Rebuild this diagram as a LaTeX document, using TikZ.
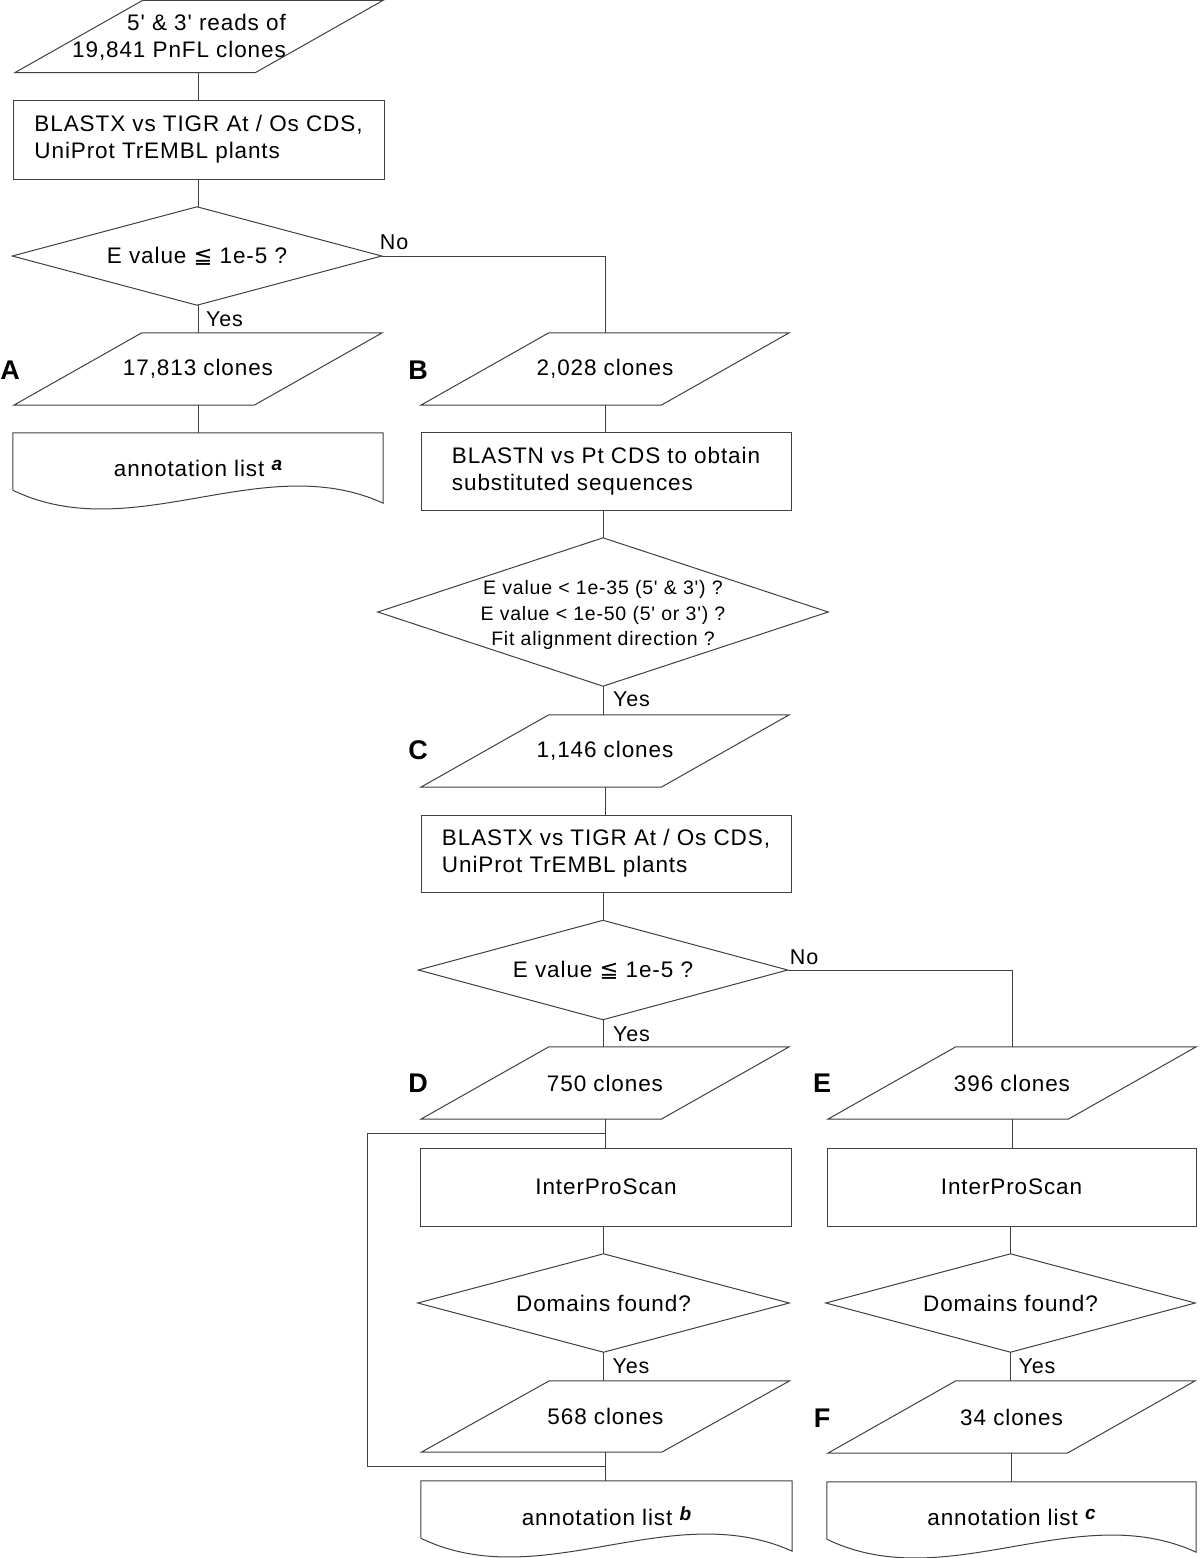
\documentclass[tikz,border=0pt]{standalone}
\usepackage{fontspec}
\newfontfamily\mainf{Liberation Sans}[LetterSpace=4]
\newfontfamily\dejavu{DejaVu Sans}
\usetikzlibrary{calc}
\definecolor{linec}{gray}{0.25}
\tikzset{
  base/.style={inner sep=0pt, align=center, text=black, font=\mainf\fontsize{22.5}{27}\selectfont},
  rbox/.style={base, draw=linec, line width=1pt},
  para/.style={base, append after command={\pgfextra{\draw[linec, line width=1pt]
      ([xshift=128pt]\tikzlastnode.north west) -- (\tikzlastnode.north east)
      -- ([xshift=-128pt]\tikzlastnode.south east) -- (\tikzlastnode.south west) -- cycle;}}},
  dia/.style={base, append after command={\pgfextra{\draw[linec, line width=1pt]
      (\tikzlastnode.north) -- (\tikzlastnode.east) -- (\tikzlastnode.south)
      -- (\tikzlastnode.west) -- cycle;}}},
  docu/.style={base, append after command={\pgfextra{\draw[linec, line width=1pt]
      ($(\tikzlastnode.south west)+(0,-13)$) -- (\tikzlastnode.north west)
      -- (\tikzlastnode.north east) -- (\tikzlastnode.south east)
      .. controls ($(\tikzlastnode.south west)+(250,-55)$) and ($(\tikzlastnode.south west)+(120,45)$)
      .. ($(\tikzlastnode.south west)+(0,-13)$);}}},
  conn/.style={draw=linec, line width=1pt},
  lbl/.style={inner sep=0pt, anchor=west, font=\mainf\fontsize{21.5}{25}\selectfont},
  letter/.style={inner sep=0pt, font=\mainf\bfseries\fontsize{27}{30}\selectfont},
  small/.style={font=\mainf\fontsize{19.5}{25.5}\selectfont}
}
\newcommand{\leqq}{{\dejavu ≦}}
\newcommand{\supl}[1]{\raisebox{0.45ex}{\fontsize{19}{20}\selectfont\bfseries\itshape #1}}
\begin{document}
\begin{tikzpicture}[x=1pt,y=-1pt]
\fill[white] (0,0) rectangle (1200,1558);
\useasboundingbox (0,0) rectangle (1200,1558);

% column A
\node[para, minimum width=368pt, minimum height=72pt] (start) at (199,36.5) {};
\node[base, align=right] (starttxt) at (179,37) {5' \& 3' reads of\\19,841 PnFL clones};
\node[rbox, align=left, minimum width=371pt, minimum height=79pt] (blast1) at (198.5,139.5) {BLASTX vs TIGR At / Os CDS,\\UniProt TrEMBL plants};
\node[dia, minimum width=369pt, minimum height=98pt] (dec1) at (197,256) {E value \leqq{} 1e-5 ?};
\node[para, minimum width=368pt, minimum height=72pt] (clA) at (198,369) {17,813 clones};
\node[docu, minimum width=370pt, minimum height=70pt] (docA) at (198,468) {annotation list \supl{a}};

% column B
\node[para, minimum width=368pt, minimum height=72pt] (clB) at (605,369) {2,028 clones};
\node[rbox, align=left, minimum width=370pt, minimum height=78pt] (blastn) at (606,471) {BLASTN vs Pt CDS to obtain\\substituted sequences};
\node[dia, minimum width=450pt, minimum height=148pt] (dec2) at (603,612) {};
\node[base, small] (dec2txt) at (603,615) {E value < 1e-35 (5' \& 3') ?\\E value < 1e-50 (5' or 3') ?\\Fit alignment direction ?};
\node[para, minimum width=368pt, minimum height=72pt] (clC) at (605,751) {1,146 clones};
\node[rbox, align=left, minimum width=370pt, minimum height=77pt] (blast2) at (606,853.5) {BLASTX vs TIGR At / Os CDS,\\UniProt TrEMBL plants};
\node[dia, minimum width=369pt, minimum height=99pt] (dec3) at (603,970) {E value \leqq{} 1e-5 ?};
\node[para, minimum width=368pt, minimum height=72pt] (clD) at (605,1083) {750 clones};
\node[rbox, minimum width=371pt, minimum height=78pt] (ipr1) at (606,1187) {InterProScan};
\node[dia, minimum width=371pt, minimum height=98pt] (dec4) at (603.5,1303) {Domains found?};
\node[para, minimum width=368pt, minimum height=71pt] (cl568) at (605.5,1416.5) {568 clones};
\node[docu, minimum width=371pt, minimum height=70pt] (docB) at (606.5,1516) {annotation list \supl{b}};

% column E
\node[para, minimum width=368pt, minimum height=72pt] (clE) at (1012,1083) {396 clones};
\node[rbox, minimum width=369pt, minimum height=78pt] (ipr2) at (1011.5,1187) {InterProScan};
\node[dia, minimum width=369pt, minimum height=98pt] (dec5) at (1010.5,1303) {Domains found?};
\node[para, minimum width=367pt, minimum height=72pt] (clF) at (1011.5,1417) {34 clones};
\node[docu, minimum width=369pt, minimum height=70pt] (docC) at (1011.5,1517) {annotation list \supl{c}};

% letters
\node[letter] (LA) at (10,370) {A};
\node[letter] (LB) at (418,370) {B};
\node[letter] (LC) at (418,750) {C};
\node[letter] (LD) at (418,1083) {D};
\node[letter] (LE) at (822,1083) {E};
\node[letter] (LF) at (822,1418) {F};

% connectors
\draw[conn] (start.south -| blast1) -- (blast1.north);
\draw[conn] (blast1.south) -- (blast1.south |- dec1.north);
\draw[conn] (dec1.south -| clA) -- (clA.north);
\draw[conn] (clA.south) -- (docA.north);
\draw[conn] (dec1.east) -| (clB.north);
\draw[conn] (clB.south) -- (clB.south |- blastn.north);
\draw[conn] (blastn.south -| dec2) -- (dec2.north);
\draw[conn] (dec2.south) -- (dec2.south |- clC.north);
\draw[conn] (clC.south) -- (clC.south |- blast2.north);
\draw[conn] (blast2.south -| dec3) -- (dec3.north);
\draw[conn] (dec3.south) -- (dec3.south |- clD.north);
\draw[conn] (clD.south) -- (clD.south |- ipr1.north);
\draw[conn] (ipr1.south -| dec4) -- (dec4.north);
\draw[conn] (dec4.south) -- (dec4.south |- cl568.north);
\draw[conn] (cl568.south) -- (cl568.south |- docB.north);
\draw[conn] (dec3.east) -| (clE.north);
\draw[conn] (clE.south) -- (clE.south |- ipr2.north);
\draw[conn] (ipr2.south -| dec5) -- (dec5.north);
\draw[conn] (dec5.south) -- (dec5.south |- clF.north);
\draw[conn] (clF.south) -- (clF.south |- docC.north);
% bypass loop
\coordinate (lt) at (367,1133.5);
\coordinate (lb) at (367,1466.5);
\draw[conn] (clD.south |- lt) -- (lt) -- (lb) -- (cl568.south |- lb);

% yes / no labels
\node[lbl] (y1) at ($(dec1.south)+(9,14)$) {Yes};
\node[lbl] (n1) at ($(dec1.east)+(-2,-14)$) {No};
\node[lbl] (y2) at ($(dec2.south)+(10,13)$) {Yes};
\node[lbl] (y3) at ($(dec3.south)+(10,14)$) {Yes};
\node[lbl] (n3) at ($(dec3.east)+(2,-13)$) {No};
\node[lbl] (y4) at ($(dec4.south)+(9,14)$) {Yes};
\node[lbl] (y5) at ($(dec5.south)+(8,14)$) {Yes};
\end{tikzpicture}
\end{document}
